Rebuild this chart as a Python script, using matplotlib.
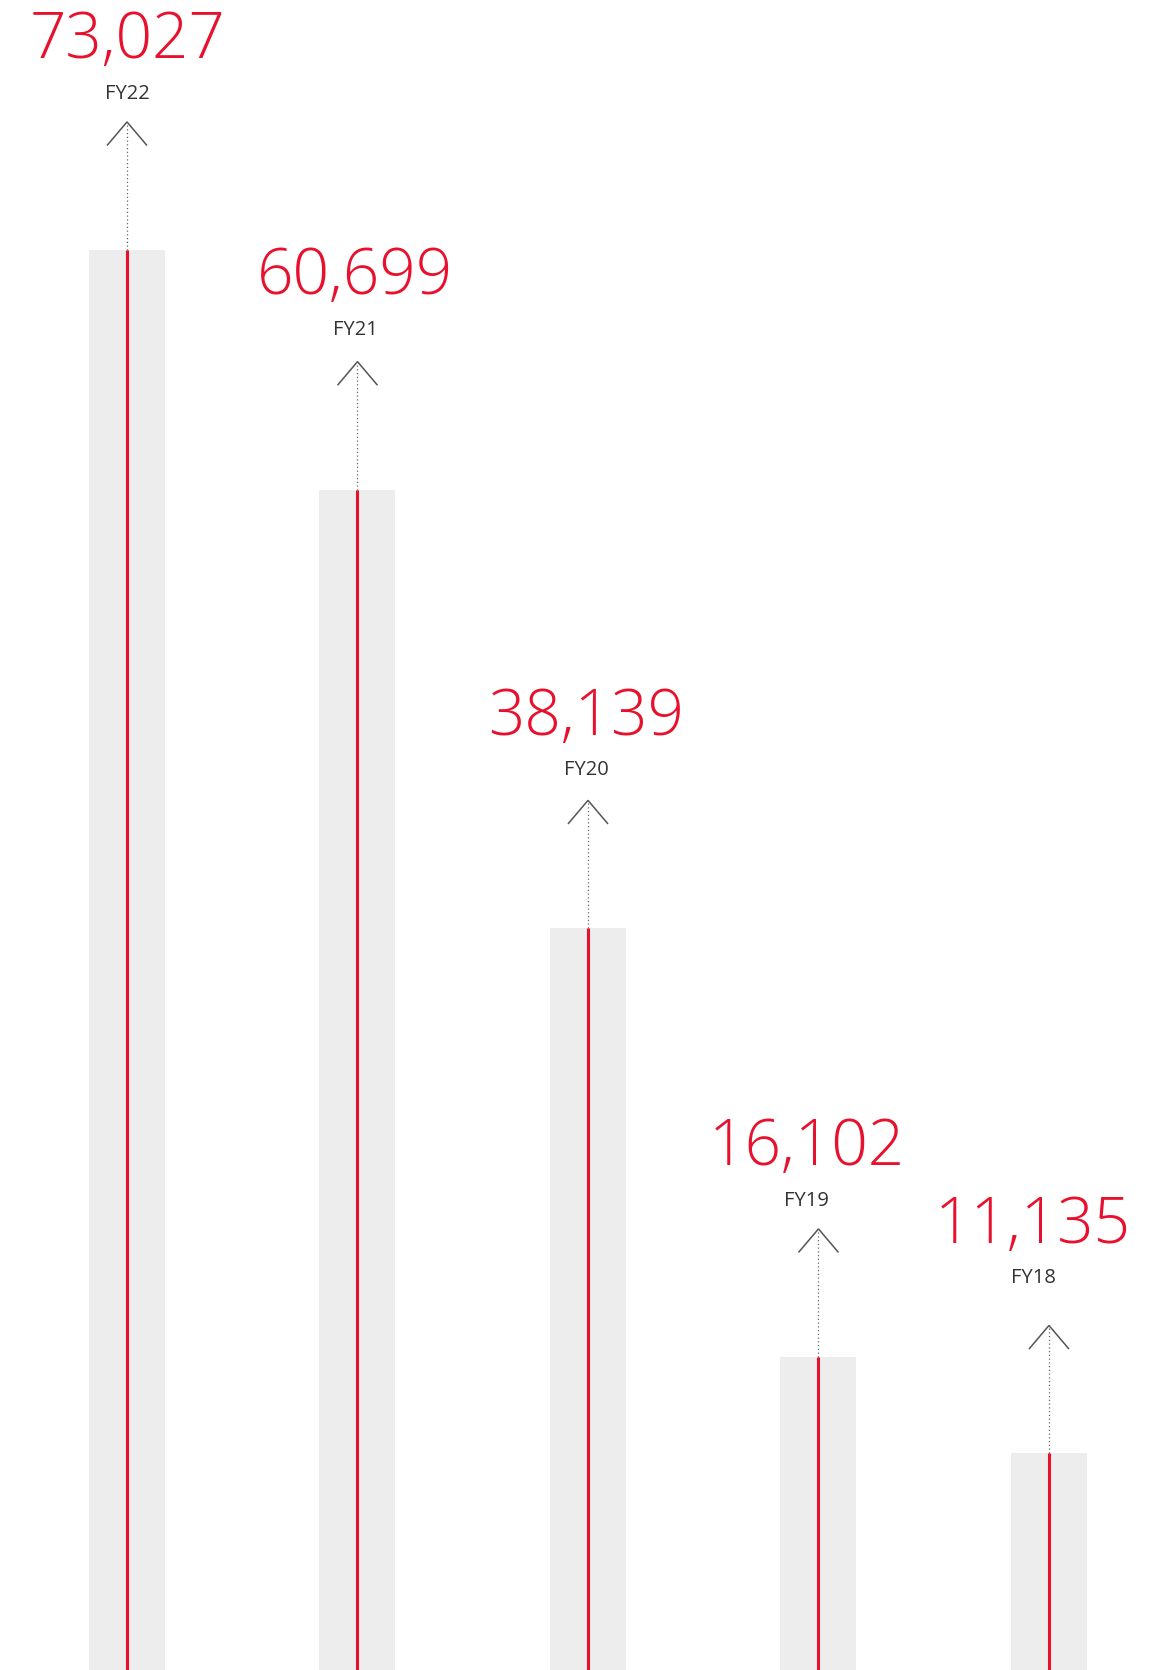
import matplotlib.pyplot as plt

# values
years = ['FY22', 'FY21', 'FY20', 'FY19', 'FY18']
values = [73027, 60699, 38139, 16102, 11135]

red = '#e8112d'
bar_grey = '#ededed'

W, H, DPI = 1161, 1670, 100
fig = plt.figure(figsize=(W / DPI, H / DPI), dpi=DPI)
ax = fig.add_axes([0, 0, 1, 1])

xmin, xmax = -0.551, 4.486
ymin, ymax = 0, 85880
ax.set_xlim(xmin, xmax)
ax.set_ylim(ymin, ymax)
ax.axis('off')

# pixel -> data unit helpers
px_x = (xmax - xmin) / W
px_y = (ymax - ymin) / H

# small nudges of the text blocks (pixels), as in the original layout
label_lift = [0, 4, 2, 0, 19]
text_shift = [0, -2, -2, -12, -16]

xs = list(range(len(years)))
ax.bar(xs, values, width=76 * px_x, color=bar_grey, zorder=1)
ax.vlines(xs, 0, values, color=red, lw=2.2, zorder=2)

for i, (yr, v) in enumerate(zip(years, values)):
    apex = v + 128 * px_y
    # dotted guide from bar top to arrow
    ax.plot([i, i], [v, apex], color='#666666', lw=0.9, ls=(0, (1, 2)), zorder=3)
    # chevron
    ax.plot([i - 19.5 * px_x, i, i + 19.5 * px_x],
            [apex - 23 * px_y, apex, apex - 23 * px_y],
            color='#555555', lw=1.1, solid_joinstyle='miter', zorder=3)
    tx = i + text_shift[i] * px_x
    ax.text(tx, v + (156 + label_lift[i]) * px_y, yr, ha='center', va='center',
            fontsize=14.5, color='#333333', family=['Open Sans', 'DejaVu Sans'])
    ax.text(tx, v + (216 + label_lift[i]) * px_y, f'{v:,}', ha='center', va='center_baseline',
            fontsize=46, color=red, family=['Open Sans', 'DejaVu Sans'], fontweight='light')

fig.savefig('out.png', dpi=DPI, facecolor='white')
